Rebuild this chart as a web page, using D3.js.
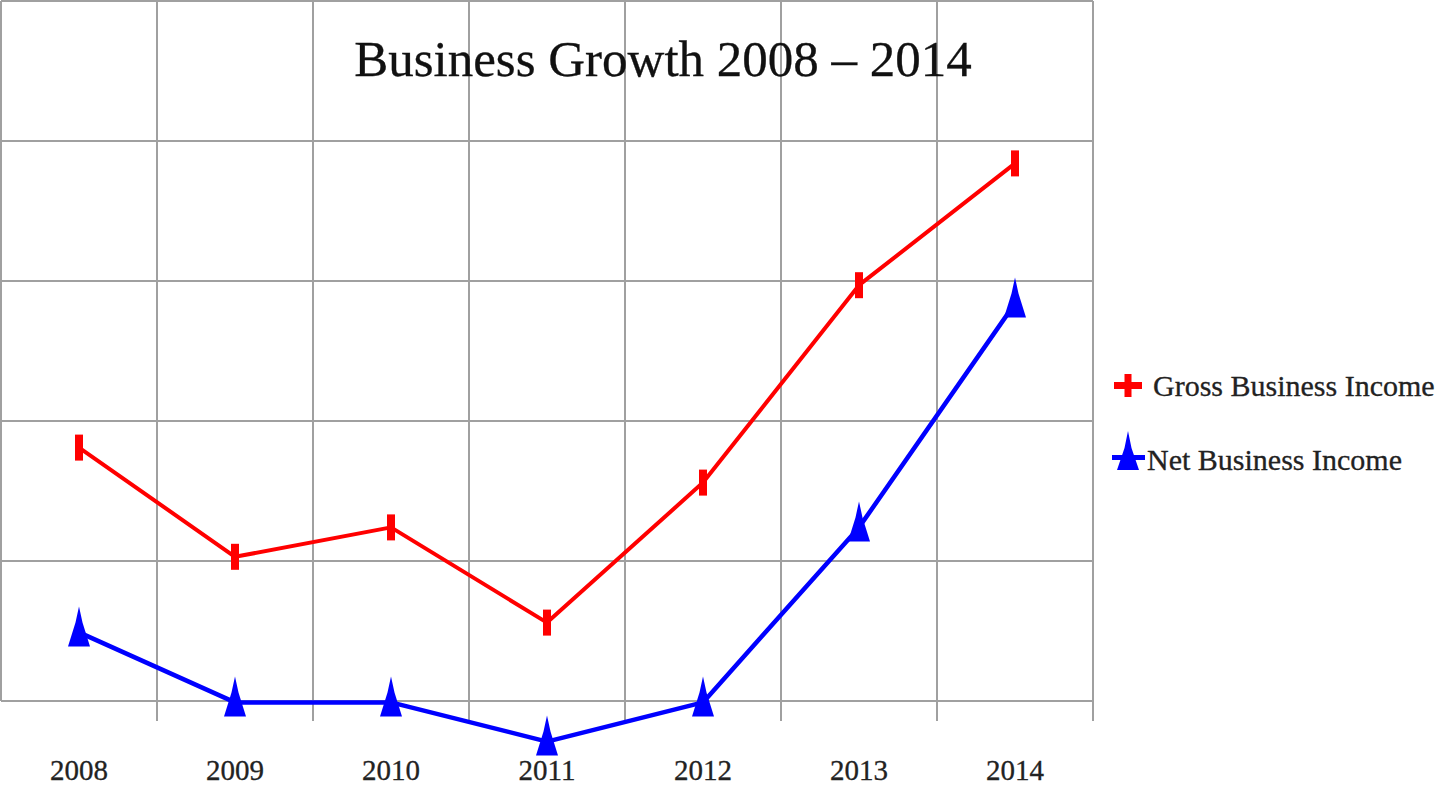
<!DOCTYPE html>
<html>
<head>
<meta charset="utf-8">
<script src="https://cdn.jsdelivr.net/npm/d3@7"></script>
<style>
  html, body { margin: 0; padding: 0; background: #fff; }
  svg { display: block; }
</style>
</head>
<body>
<svg id="chart" width="1440" height="792"></svg>
<script>
const years = ["2008", "2009", "2010", "2011", "2012", "2013", "2014"];
const grossIncome = [18.1, 10.3, 12.4, 5.6, 15.6, 29.7, 38.4];
const netIncome = [4.9, -0.1, -0.1, -2.9, -0.1, 12.4, 28.4];
const yTicks = [0, 10, 20, 30, 40, 50];
const seriesNames = ["Gross Business Income", "Net Business Income"];
const titleText = "Business Growth 2008 \u2013 2014";

const svg = d3.select("#chart");
const serif = "'Liberation Serif', 'DejaVu Serif', serif";

svg.append("rect").attr("width", 1440).attr("height", 792).attr("fill", "#fff");

const x = d3.scaleBand().domain(years).range([1, 1093]);
const y = d3.scaleLinear().domain([0, 50]).range([701, 1]);
const cx = d => x(d) + x.bandwidth() / 2;

const grid = svg.append("g").attr("stroke", "#a0a0a0").attr("stroke-width", 2).attr("fill", "none");
grid.selectAll("line.h").data(yTicks).join("line")
  .attr("class", "h")
  .attr("x1", x.range()[0]).attr("x2", x.range()[1])
  .attr("y1", d => y(d)).attr("y2", d => y(d));
const bounds = years.map(d => x(d)).concat([x.range()[1]]);
grid.selectAll("line.v").data(bounds).join("line")
  .attr("class", "v")
  .attr("x1", d => d).attr("x2", d => d)
  .attr("y1", y(50)).attr("y2", (d, i) => i === 0 ? y(0) : y(0) + 20);

svg.append("text")
  .attr("x", 663).attr("y", 76)
  .attr("text-anchor", "middle")
  .attr("font-family", serif).attr("font-size", 51)
  .attr("fill", "#111").attr("stroke", "#111").attr("stroke-width", 0.3)
  .text(titleText);

svg.append("g").selectAll("text").data(years).join("text")
  .attr("x", d => cx(d)).attr("y", 780)
  .attr("text-anchor", "middle")
  .attr("font-family", serif).attr("font-size", 29)
  .attr("fill", "#222").attr("stroke", "#222").attr("stroke-width", 0.3)
  .text(d => d);

const line = d3.line().x(d => cx(d[0])).y(d => y(d[1]));
const grossData = years.map((yr, i) => [yr, grossIncome[i]]);
const netData = years.map((yr, i) => [yr, netIncome[i]]);

svg.append("path").datum(grossData)
  .attr("d", line).attr("fill", "none")
  .attr("stroke", "#ff0000").attr("stroke-width", 4).attr("stroke-linejoin", "round");
svg.append("path").datum(netData)
  .attr("d", line).attr("fill", "none")
  .attr("stroke", "#0000ff").attr("stroke-width", 4.5).attr("stroke-linejoin", "round");

svg.append("g").selectAll("rect").data(grossData).join("rect")
  .attr("x", d => cx(d[0]) - 4).attr("y", d => y(d[1]) - 13)
  .attr("width", 8).attr("height", 26)
  .attr("fill", "#ff0000");

const triPath = "M0,-26 L3.5,-10 L11,14 L-11,14 L-3.5,-10 Z";
svg.append("g").selectAll("path").data(netData).join("path")
  .attr("transform", d => `translate(${cx(d[0])},${y(d[1])})`)
  .attr("d", triPath)
  .attr("fill", "#0000ff");

const lg = svg.append("g");
lg.append("rect").attr("x", 1114).attr("y", 382).attr("width", 28).attr("height", 7).attr("fill", "#ff0000");
lg.append("rect").attr("x", 1124.5).attr("y", 374).attr("width", 7).attr("height", 23).attr("fill", "#ff0000");
lg.append("text").attr("x", 1153).attr("y", 396)
  .attr("font-family", serif).attr("font-size", 30).attr("fill", "#222")
  .attr("stroke", "#222").attr("stroke-width", 0.3)
  .text(seriesNames[0]);

lg.append("rect").attr("x", 1112).attr("y", 455).attr("width", 33).attr("height", 5).attr("fill", "#0000ff");
lg.append("path").attr("transform", "translate(1128,455)").attr("d", "M0,-24 L3.5,-7 L11,15 L-11,15 L-3.5,-7 Z").attr("fill", "#0000ff");
lg.append("text").attr("x", 1147).attr("y", 470)
  .attr("font-family", serif).attr("font-size", 30).attr("fill", "#222")
  .attr("stroke", "#222").attr("stroke-width", 0.3)
  .text(seriesNames[1]);
</script>
</body>
</html>
